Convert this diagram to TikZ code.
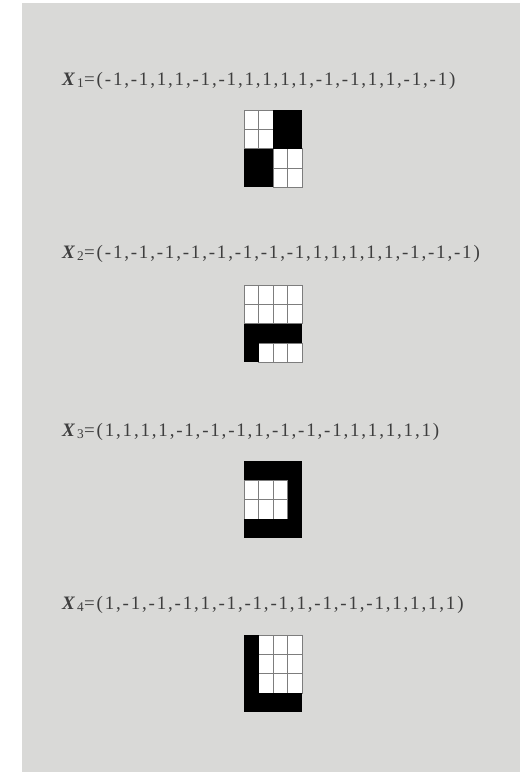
\documentclass[tikz,border=0pt]{standalone}
\usepackage{fontspec}
\setmainfont{Liberation Serif}
\newfontfamily\vecfont[LetterSpace=9.5]{Liberation Serif}
\usetikzlibrary{positioning}
\definecolor{papergray}{RGB}{217,217,215}
\definecolor{inkgray}{RGB}{62,62,62}
\definecolor{gridline}{RGB}{125,125,125}

\tikzset{
  veclabel/.style={anchor=base west, inner sep=0pt, text=inkgray,
    font=\vecfont\fontsize{19}{19}\selectfont},
  offcell/.style={fill=white, draw=gridline, line width=0.8pt}
}

% 4x4 pattern, top edge #1, values row by row (1 = black, -1 = white)
\newcommand\patterngrid[2]{%
  \foreach \v [count=\k from 0] in {#2}{%
    \pgfmathtruncatemacro\col{mod(\k,4)}%
    \pgfmathtruncatemacro\row{div(\k,4)}%
    \ifnum\v<0 \draw[offcell] ({244+14.5*\col},{#1+19.3*\row}) rectangle +(14.5,19.3);\fi
  }%
  \foreach \v [count=\k from 0] in {#2}{%
    \pgfmathtruncatemacro\col{mod(\k,4)}%
    \pgfmathtruncatemacro\row{div(\k,4)}%
    \ifnum\v>0 \fill[black] ({244+14.5*\col},{#1+19.3*\row}) rectangle +(14.5,19.3);\fi
  }}

\begin{document}
\begin{tikzpicture}[x=1pt, y=-1pt]
  \useasboundingbox (0,0) rectangle (529,772);
  \fill[white] (0,0) rectangle (529,772);
  \fill[papergray] (22,3) rectangle (520,772);

  % Pattern X1
  \node[veclabel] (x1) at (62,85) {\textbf{\textit{X}}\textsubscript{1}=(-1,-1,1,1,-1,-1,1,1,1,1,-1,-1,1,1,-1,-1)};
  \patterngrid{110}{-1,-1,1,1,-1,-1,1,1,1,1,-1,-1,1,1,-1,-1}

  % Pattern X2
  \node[veclabel] (x2) at (62,258) {\textbf{\textit{X}}\textsubscript{2}=(-1,-1,-1,-1,-1,-1,-1,-1,1,1,1,1,1,-1,-1,-1)};
  \patterngrid{285}{-1,-1,-1,-1,-1,-1,-1,-1,1,1,1,1,1,-1,-1,-1}

  % Pattern X3
  \node[veclabel] (x3) at (62,436) {\textbf{\textit{X}}\textsubscript{3}=(1,1,1,1,-1,-1,-1,1,-1,-1,-1,1,1,1,1,1)};
  \patterngrid{461}{1,1,1,1,-1,-1,-1,1,-1,-1,-1,1,1,1,1,1}

  % Pattern X4
  \node[veclabel] (x4) at (62,609) {\textbf{\textit{X}}\textsubscript{4}=(1,-1,-1,-1,1,-1,-1,-1,1,-1,-1,-1,1,1,1,1)};
  \patterngrid{635}{1,-1,-1,-1,1,-1,-1,-1,1,-1,-1,-1,1,1,1,1}
\end{tikzpicture}
\end{document}
